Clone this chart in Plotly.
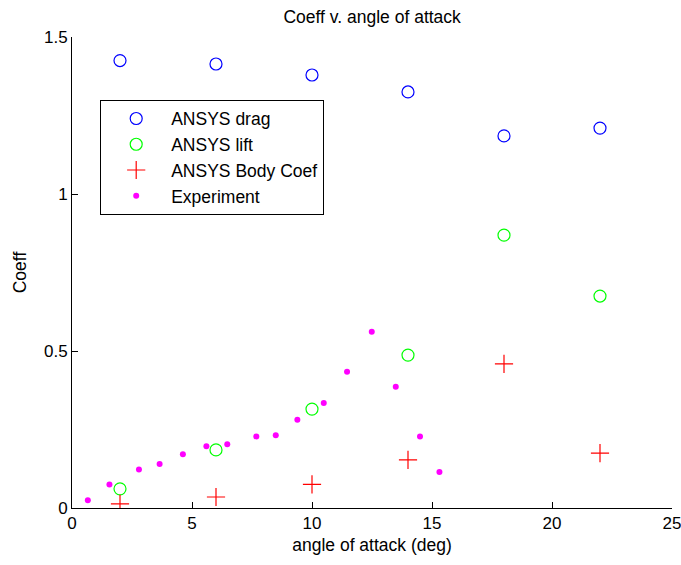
import plotly.graph_objects as go

# Data
angles_ansys = [2, 6, 10, 14, 18, 22]
drag = [1.425, 1.414, 1.379, 1.325, 1.185, 1.210]
lift = [0.061, 0.185, 0.315, 0.487, 0.869, 0.675]
body_coef = [0.013, 0.035, 0.075, 0.153, 0.459, 0.175]

exp_angle = [0.66, 1.56, 2.79, 3.65, 4.62, 5.60, 6.47, 7.68, 8.49, 9.39,
             10.49, 11.46, 12.49, 13.49, 14.50, 15.31]
exp_coef = [0.025, 0.075, 0.123, 0.140, 0.171, 0.197, 0.203, 0.228, 0.232, 0.281,
            0.334, 0.434, 0.561, 0.386, 0.228, 0.115]

x_ticks = [0, 5, 10, 15, 20, 25]
y_ticks = [0, 0.5, 1, 1.5]
y_tick_labels = ["0", "0.5", "1", "1.5"]

FONT = "Liberation Sans, Arial, sans-serif"

fig = go.Figure()
fig.add_trace(go.Scatter(
    x=angles_ansys, y=drag, mode="markers", name="ANSYS drag",
    marker=dict(symbol="circle-open", size=12, color="#0000FF", line=dict(width=1.2, color="#0000FF")),
))
fig.add_trace(go.Scatter(
    x=angles_ansys, y=lift, mode="markers", name="ANSYS lift",
    marker=dict(symbol="circle-open", size=12, color="#00FF00", line=dict(width=1.2, color="#00FF00")),
))
fig.add_trace(go.Scatter(
    x=angles_ansys, y=body_coef, mode="markers", name="ANSYS Body Coef",
    marker=dict(symbol="cross-thin", size=13, color="#FF0000", line=dict(width=1.2, color="#FF0000")),
))
fig.add_trace(go.Scatter(
    x=exp_angle, y=exp_coef, mode="markers", name="Experiment",
    marker=dict(symbol="circle", size=6, color="#FF00FF", line=dict(width=0)),
))

fig.update_layout(
    width=681, height=565,
    margin=dict(l=72, r=9, t=37, b=57, autoexpand=False),
    paper_bgcolor="white", plot_bgcolor="white",
    font=dict(family=FONT, size=17, color="black"),
    title=dict(text="Coeff v. angle of attack", x=0.5465, xanchor="center",
               y=1 - 16.5 / 565, yanchor="middle", yref="container",
               font=dict(family=FONT, size=17.5, color="black")),
    showlegend=True,
    legend=dict(x=0.047, y=0.867, xanchor="left", yanchor="top",
                bgcolor="white", bordercolor="black", borderwidth=1,
                font=dict(family=FONT, size=17.5, color="black"),
                itemwidth=60),
    xaxis=dict(range=[0, 25], tickvals=x_ticks, ticks="inside", ticklen=6,
               ticklabeloverflow="allow", automargin=False,
               showline=True, linecolor="black", linewidth=1, tickcolor="black",
               showgrid=False, zeroline=False, mirror=False,
               title=dict(text="angle of attack (deg)", standoff=6,
                          font=dict(family=FONT, size=17.5))),
    yaxis=dict(range=[0, 1.5], tickvals=y_ticks, ticktext=y_tick_labels,
               ticks="inside", ticklen=6, ticklabeloverflow="allow", automargin=False,
               showline=True, linecolor="black", linewidth=1, tickcolor="black",
               showgrid=False, zeroline=False, mirror=False,
               title=dict(text="Coeff", standoff=12,
                          font=dict(family=FONT, size=17.5))),
)

fig.write_html("out.html")
